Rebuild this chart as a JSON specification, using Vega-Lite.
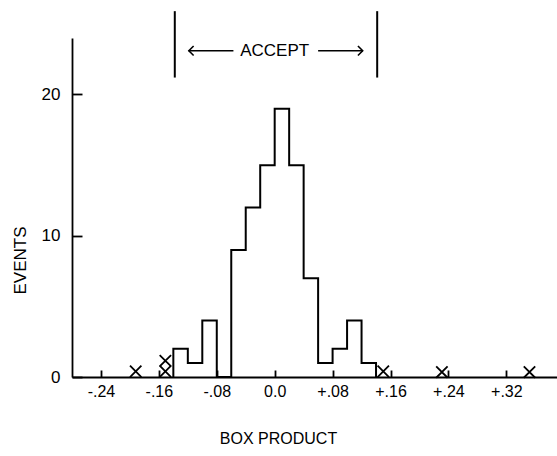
{
  "$schema": "https://vega.github.io/schema/vega-lite/v6.json",
  "width": 485,
  "height": 339,
  "autosize": "none",
  "padding": {"left": 72, "top": 38, "right": 0, "bottom": 79},
  "background": "white",
  "config": {
    "view": {"stroke": null},
    "font": "Liberation Sans",
    "axis": {
      "grid": false,
      "domainColor": "black",
      "domainWidth": 1.8,
      "tickColor": "black",
      "tickWidth": 1.8,
      "labelColor": "black",
      "titleColor": "black",
      "labelFont": "Liberation Sans",
      "titleFont": "Liberation Sans",
      "titleFontWeight": "normal"
    }
  },
  "datasets": {
    "hist": [
      {"ord": 0, "edge": -0.14, "events": 0},
      {"ord": 1, "edge": -0.14, "events": 2},
      {"ord": 2, "edge": -0.12, "events": 1},
      {"ord": 3, "edge": -0.10, "events": 4},
      {"ord": 4, "edge": -0.08, "events": 0},
      {"ord": 5, "edge": -0.06, "events": 9},
      {"ord": 6, "edge": -0.04, "events": 12},
      {"ord": 7, "edge": -0.02, "events": 15},
      {"ord": 8, "edge": 0.00, "events": 19},
      {"ord": 9, "edge": 0.02, "events": 15},
      {"ord": 10, "edge": 0.04, "events": 7},
      {"ord": 11, "edge": 0.06, "events": 1},
      {"ord": 12, "edge": 0.08, "events": 2},
      {"ord": 13, "edge": 0.10, "events": 4},
      {"ord": 14, "edge": 0.12, "events": 1},
      {"ord": 15, "edge": 0.14, "events": 0}
    ],
    "rejected": [
      {"value": -0.192, "level": 0.4},
      {"value": -0.151, "level": 0.4},
      {"value": -0.151, "level": 1.15},
      {"value": 0.150, "level": 0.4},
      {"value": 0.231, "level": 0.35},
      {"value": 0.352, "level": 0.35}
    ],
    "cuts": [
      {"cut": -0.138},
      {"cut": 0.1416}
    ]
  },
  "layer": [
    {
      "data": {"name": "hist"},
      "mark": {"type": "line", "interpolate": "step-after", "color": "black", "strokeWidth": 2},
      "encoding": {
        "x": {
          "field": "edge", "type": "quantitative",
          "scale": {"domain": [-0.28, 0.39], "nice": false, "zero": false},
          "axis": {
            "values": [-0.24, -0.16, -0.08, 0, 0.08, 0.16, 0.24, 0.32],
            "labelExpr": "datum.value == 0 ? '0.0' : (datum.value > 0 ? '+' : '-') + replace(format(abs(datum.value), '.2f'), '0.', '.')",
            "tickSize": -7,
            "labelPadding": 21,
            "labelFontSize": 16,
            "labelBaseline": "middle",
            "title": "BOX  PRODUCT",
            "titleFontSize": 16,
            "titleX": 206,
            "titleY": 61,
            "titleBaseline": "middle"
          }
        },
        "y": {
          "field": "events", "type": "quantitative",
          "scale": {"domain": [0, 24], "nice": false},
          "axis": {
            "values": [0, 10, 20],
            "tickSize": -10,
            "labelPadding": 22,
            "labelFontSize": 17,
            "title": "EVENTS",
            "titleFontSize": 17,
            "titleX": -52,
            "titleY": 222,
            "titleBaseline": "middle"
          }
        },
        "order": {"field": "ord", "type": "quantitative"}
      }
    },
    {
      "data": {"name": "rejected"},
      "mark": {"type": "point", "shape": "M-1,-1L1,1M-1,1L1,-1", "filled": false, "color": "black", "strokeWidth": 1.8, "size": 130, "opacity": 1},
      "encoding": {
        "x": {"field": "value", "type": "quantitative"},
        "y": {"field": "level", "type": "quantitative"}
      }
    },
    {
      "data": {"name": "cuts"},
      "mark": {"type": "rule", "color": "black", "strokeWidth": 2},
      "encoding": {
        "x": {"field": "cut", "type": "quantitative"},
        "y": {"datum": 21.2},
        "y2": {"datum": 25.9}
      }
    },
    {
      "data": {"values": [{}]},
      "mark": {"type": "rule", "color": "black", "strokeWidth": 1.6},
      "encoding": {
        "x": {"datum": -0.119},
        "x2": {"datum": -0.057},
        "y": {"datum": 23.1}
      }
    },
    {
      "data": {"values": [{}]},
      "mark": {"type": "rule", "color": "black", "strokeWidth": 1.6},
      "encoding": {
        "x": {"datum": 0.060},
        "x2": {"datum": 0.122},
        "y": {"datum": 23.1}
      }
    },
    {
      "data": {"values": [{}]},
      "mark": {"type": "point", "shape": "M0,-1L-1,0L0,1", "filled": false, "color": "black", "strokeWidth": 1.6, "size": 90, "opacity": 1},
      "encoding": {
        "x": {"datum": -0.112},
        "y": {"datum": 23.1}
      }
    },
    {
      "data": {"values": [{}]},
      "mark": {"type": "point", "shape": "M0,-1L1,0L0,1", "filled": false, "color": "black", "strokeWidth": 1.6, "size": 90, "opacity": 1},
      "encoding": {
        "x": {"datum": 0.115},
        "y": {"datum": 23.1}
      }
    },
    {
      "data": {"values": [{}]},
      "mark": {"type": "text", "text": "ACCEPT", "fontSize": 17, "color": "black", "align": "center", "baseline": "middle"},
      "encoding": {
        "x": {"datum": 0.0},
        "y": {"datum": 23.1}
      }
    }
  ]
}
